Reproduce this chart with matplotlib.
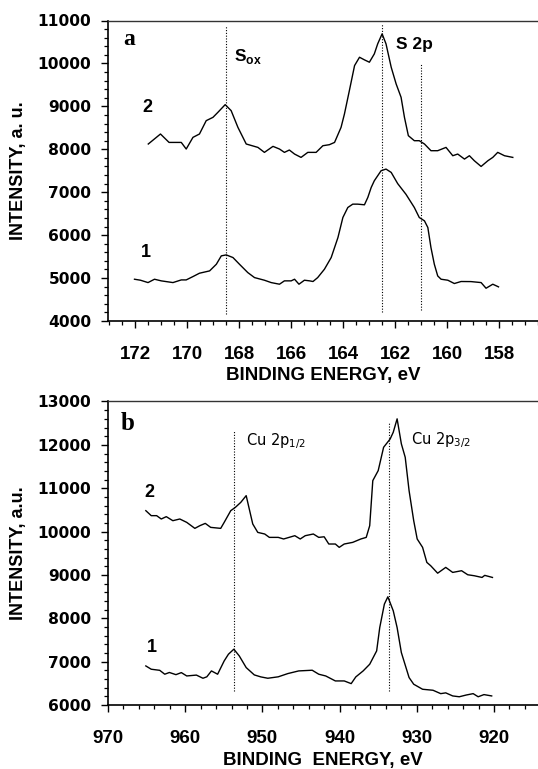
import matplotlib
matplotlib.use('Agg')
import matplotlib.pyplot as plt
from matplotlib.ticker import MultipleLocator

plt.rcParams['mathtext.fontset'] = 'custom'
plt.rcParams['mathtext.rm'] = 'DejaVu Sans'
plt.rcParams['mathtext.bf'] = 'Liberation Sans:bold'

# ---------------- Panel a: S 2p ----------------
s2_energy = [171.5, 171.03, 170.7, 170.23, 170.04, 169.78, 169.53, 169.27, 169.01, 168.82,
             168.54, 168.31, 168.05, 167.73, 167.28, 167.03, 166.70, 166.45, 166.26, 166.07,
             165.87, 165.62, 165.36, 165.04, 164.78, 164.53, 164.33, 164.08, 163.95, 163.76,
             163.56, 163.37, 163.18, 162.99, 162.80, 162.67, 162.5, 162.35, 162.15, 161.96,
             161.77, 161.64, 161.49, 161.26, 161.07, 160.87, 160.62, 160.36, 160.04, 159.78,
             159.59, 159.33, 159.14, 158.95, 158.69, 158.43, 158.24, 158.05, 157.79, 157.47]
s2_int = [8123, 8356, 8160, 8160, 8006, 8278, 8356, 8667, 8744, 8861,
          9040, 8900, 8511, 8123, 8044, 7928, 8068, 8006, 7928, 7983,
          7889, 7811, 7928, 7928, 8083, 8107, 8160, 8511, 8822, 9367,
          9950, 10144, 10083, 10028, 10222, 10456, 10689, 10456, 9911, 9522,
          9211, 8744, 8317, 8200, 8200, 8123, 7967, 7967, 8044, 7850,
          7889, 7772, 7850, 7733, 7600, 7733, 7811, 7928, 7850, 7811]

s1_energy = [172.03, 171.8, 171.51, 171.26, 171.0, 170.55, 170.23, 170.04, 169.78, 169.53,
             169.14, 168.88, 168.69, 168.5, 168.24, 167.99, 167.67, 167.41, 167.03, 166.77,
             166.45, 166.26, 166.0, 165.87, 165.7, 165.49, 165.29, 165.16, 164.98, 164.72,
             164.46, 164.2, 164.01, 163.82, 163.63, 163.44, 163.18, 163.05, 162.92, 162.8,
             162.54, 162.35, 162.15, 161.9, 161.58, 161.26, 161.07, 160.87, 160.74, 160.62,
             160.49, 160.36, 160.23, 159.97, 159.72, 159.46, 159.08, 158.69, 158.5, 158.24,
             158.02]
s1_int = [4973, 4950, 4895, 4973, 4935, 4895, 4957, 4957, 5035, 5113,
          5167, 5322, 5517, 5540, 5478, 5322, 5128, 5011, 4950, 4895,
          4857, 4935, 4935, 4973, 4857, 4950, 4935, 4920, 5011, 5206,
          5478, 5944, 6411, 6644, 6722, 6722, 6707, 6878, 7111, 7267,
          7500, 7539, 7461, 7200, 6950, 6644, 6411, 6333, 6178, 5711,
          5322, 5050, 4973, 4950, 4873, 4920, 4918, 4895, 4763, 4857,
          4795]

s_lines = [168.5, 162.5, 161.0]
s_lines_top = [10883, 10930, 9997]
s_lines_bottom = [4164, 4210, 4257]

a_xticks = [172, 170, 168, 166, 164, 162, 160, 158]
a_xlabels = ['172', '170', '168', '166', '164', '162', '160', '158']
a_yticks = [4000, 5000, 6000, 7000, 8000, 9000, 10000, 11000]
a_ylabels = ['4000', '5000', '6000', '7000', '8000', '9000', '10000', '11000']

# ---------------- Panel b: Cu 2p ----------------
c2_energy = [965.1, 964.4, 963.7, 963.1, 962.45, 961.6, 960.7, 959.8, 958.75, 958.1,
             957.4, 956.7, 955.4, 954.95, 954.1, 953.5, 952.8, 952.1, 951.75, 951.25,
             950.6, 949.7, 949.1, 947.95, 947.25, 945.8, 945.1, 944.45, 943.4, 942.7,
             942.0, 941.4, 940.55, 940.05, 939.4, 938.3, 937.25, 936.55, 936.1, 935.7,
             935.0, 934.3, 933.45, 933.05, 932.55, 932.0, 931.5, 931.0, 930.4, 929.95,
             929.25, 928.7, 928.2, 927.3, 926.25, 925.35, 924.2, 923.4, 922.55, 921.55,
             921.2, 920.2]
c2_int = [10482, 10367, 10367, 10290, 10344, 10251, 10290, 10212, 10074, 10136,
          10189, 10097, 10074, 10212, 10482, 10559, 10674, 10829, 10559, 10175,
          9981, 9944, 9866, 9866, 9829, 9905, 9829, 9905, 9944, 9866,
          9880, 9713, 9713, 9636, 9713, 9751, 9829, 9866, 10136, 11175,
          11406, 11944, 12136, 12291, 12600, 12023, 11713, 10944, 10251, 9829,
          9636, 9289, 9212, 9040, 9174, 9058, 9097, 9004, 8981, 8942,
          8990, 8942]

c1_energy = [965.1, 964.4, 963.3, 962.65, 962.05, 961.2, 960.5, 959.8, 958.55, 957.7,
             957.2, 956.6, 955.8, 954.95, 954.4, 953.7, 953.0, 952.1, 951.05, 950.2,
             949.3, 947.95, 946.7, 945.3, 943.55, 942.7, 941.8, 940.55, 939.4, 938.5,
             937.9, 936.95, 936.1, 935.2, 934.8, 934.2, 933.75, 933.05, 932.55, 932.0,
             931.0, 930.4, 929.25, 927.9, 926.9, 926.25, 925.35, 924.5, 923.6, 922.7,
             922.05, 921.3, 920.3]
c1_int = [6901, 6825, 6800, 6710, 6750, 6700, 6747, 6670, 6690, 6617,
          6650, 6786, 6710, 7017, 7171, 7287, 7133, 6863, 6694, 6648,
          6617, 6650, 6725, 6786, 6802, 6710, 6670, 6555, 6555, 6493,
          6648, 6786, 6940, 7248, 7786, 8327, 8495, 8172, 7786, 7209,
          6633, 6479, 6363, 6340, 6262, 6280, 6209, 6190, 6230, 6262,
          6190, 6240, 6209]

cu_lines = [953.7, 933.54]
cu_lines_top = [12337, 12522]
cu_lines_bottom = [6330, 6330]

b_xticks = [970, 960, 950, 940, 930, 920]
b_xlabels = ['970', '960', '950', '940', '930', '920']
b_yticks = [6000, 7000, 8000, 9000, 10000, 11000, 12000, 13000]
b_ylabels = ['6000', '7000', '8000', '9000', '10000', '11000', '12000', '13000']

# ---------------- Figure ----------------
W, H = 538, 769
fig = plt.figure(figsize=(W / 100, H / 100), dpi=100)
axA = fig.add_axes([108 / W, (H - 321) / H, 430 / W, 300.5 / H])
axB = fig.add_axes([108 / W, (H - 705) / H, 430 / W, 303.5 / H])

xfont = dict(family='Liberation Sans', weight='bold', size=13.5)
yfont = dict(family='DejaVu Sans', weight='bold', size=11.2)


def style(ax, xlim, ylim, xt, xl, yt, yl, xminor, yminor, xlabel, ylabel):
    ax.set_xlim(*xlim)
    ax.set_ylim(*ylim)
    ax.set_xticks(xt, xl, fontfamily=xfont['family'], fontweight='bold', fontsize=xfont['size'])
    ax.set_yticks(yt, yl, fontfamily=yfont['family'], fontweight='bold', fontsize=yfont['size'])
    ax.xaxis.set_minor_locator(MultipleLocator(xminor))
    ax.yaxis.set_minor_locator(MultipleLocator(yminor))
    ax.tick_params(axis='x', which='major', direction='out', length=5, width=1.0, pad=13)
    ax.tick_params(axis='x', which='minor', direction='out', length=3, width=0.9)
    ax.tick_params(axis='y', which='major', direction='out', length=5, width=1.0, pad=7)
    ax.tick_params(axis='y', which='minor', direction='out', length=3, width=0.9)
    ax.spines['right'].set_visible(False)
    ax.spines['top'].set_linewidth(1.0)
    ax.spines['top'].set_color('#333333')
    ax.spines['left'].set_linewidth(1.2)
    ax.spines['bottom'].set_linewidth(1.2)
    ax.set_xlabel(xlabel, fontfamily='Liberation Sans', fontweight='bold', fontsize=13.5, va='top')
    ax.set_ylabel(ylabel, fontfamily='Liberation Sans', fontweight='bold', fontsize=13, va='center')
    ax.yaxis.set_label_coords(-0.207, 0.5)
    ax.set_facecolor('white')


# Panel a
axA.vlines(s_lines, s_lines_bottom, s_lines_top, colors='black', linestyles=(0, (1, 1.5)), linewidth=0.8, zorder=1)
axA.plot(s2_energy, s2_int, color='black', linewidth=1.0, zorder=3)
axA.plot(s1_energy, s1_int, color='black', linewidth=1.0, zorder=3)
style(axA, (173.05, 156.5), (4000, 11000), a_xticks, a_xlabels, a_yticks, a_ylabels,
      0.5, 200, 'BINDING ENERGY, eV', 'INTENSITY, a. u.')
axA.xaxis.set_label_coords(0.5, -0.152)

axA.text(172.23, 10557, 'a', fontfamily='Liberation Serif', fontweight='bold', fontsize=17,
         ha='center', va='center')
axA.text(171.54, 8970, '2', fontfamily='Liberation Sans', fontweight='bold', fontsize=13,
         ha='center', va='center')
axA.text(171.58, 5587, '1', fontfamily='Liberation Sans', fontweight='bold', fontsize=13,
         ha='center', va='center')
axA.text(168.2, 10067, r'S$_{\mathbf{ox}}$', fontfamily='Liberation Sans', fontweight='bold',
         fontsize=12.5, ha='left', va='baseline')
axA.text(161.96, 10347, 'S 2p', fontfamily='Liberation Sans', fontweight='bold', fontsize=12.5,
         ha='left', va='baseline')

# Panel b
axB.vlines(cu_lines, cu_lines_bottom, cu_lines_top, colors='black', linestyles=(0, (1, 1.5)), linewidth=0.8, zorder=1)
axB.plot(c2_energy, c2_int, color='black', linewidth=1.0, zorder=3)
axB.plot(c1_energy, c1_int, color='black', linewidth=1.0, zorder=3)
style(axB, (970.0, 914.3), (6000, 13000), b_xticks, b_xlabels, b_yticks, b_ylabels,
      2, 200, 'BINDING  ENERGY, eV', 'INTENSITY, a.u.')
axB.xaxis.set_label_coords(0.5, -0.155)

axB.text(967.47, 12499, 'b', fontfamily='Liberation Serif', fontweight='bold', fontsize=18,
         ha='center', va='center')
axB.text(964.6, 10905, '2', fontfamily='Liberation Sans', fontweight='bold', fontsize=13,
         ha='center', va='center')
axB.text(964.35, 7325, '1', fontfamily='Liberation Sans', fontweight='bold', fontsize=13,
         ha='center', va='center')
axB.text(952.1, 11983, r'Cu 2p$_{1/2}$', fontfamily='DejaVu Sans', fontsize=10.5,
         ha='left', va='baseline')
axB.text(930.7, 12020, r'Cu 2p$_{3/2}$', fontfamily='DejaVu Sans', fontsize=10.5,
         ha='left', va='baseline')

fig.savefig('out.png', dpi=100, facecolor='white')
